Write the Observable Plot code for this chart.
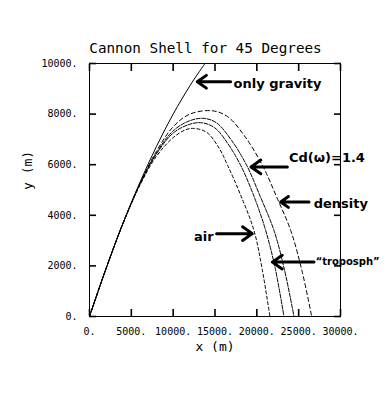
<!DOCTYPE html>
<html><head><meta charset="utf-8">
<script src="https://cdn.jsdelivr.net/npm/d3@7"></script>
<script src="https://cdn.jsdelivr.net/npm/@observablehq/plot@0.6"></script>
<style>
body{margin:0;background:#fff;width:392px;height:402px;overflow:hidden;position:relative;}
#chart{position:absolute;left:0;top:0;}
#title{position:absolute;left:89px;width:233px;top:39px;text-align:center;font-family:"DejaVu Sans Mono",monospace;font-size:14.3px;line-height:18px;color:#000;white-space:nowrap;}
</style></head><body>
<div id="chart"></div>
<div id="title">Cannon Shell for 45 Degrees</div>
<script>
// ---- data ----
const xTicks = [0, 5000, 10000, 15000, 20000, 25000, 30000];
const yTicks = [0, 2000, 4000, 6000, 8000, 10000];

const gravityX = [0, 2000, 4000, 6000, 8000, 10000, 12000, 13000, 13800];
const gravityY = [0, 1920, 3680, 5280, 6720, 8000, 9120, 9620, 10000];

const airX = [0, 2000, 4000, 6000, 8000, 10000, 11500, 12476, 14000, 15500, 16500, 18000, 19650, 20650, 21567];
const airY = [0, 1910, 3670, 5170, 6330, 7070, 7380, 7434, 7280, 6650, 5980, 4850, 3406, 1850, 0];

const tropoX = [0, 2000, 4000, 6000, 8000, 10000, 12000, 13480, 15000, 16500, 18060, 19600, 21053, 22200, 23240];
const tropoY = [0, 1912, 3675, 5200, 6420, 7250, 7600, 7655, 7450, 6850, 5980, 4800, 3406, 1900, 0];

const cdX = [0, 2000, 4000, 6000, 8000, 10000, 12000, 13672, 15200, 17000, 18780, 20400, 22045, 23300, 24440];
const cdY = [0, 1915, 3680, 5220, 6470, 7340, 7740, 7830, 7650, 6950, 5980, 4750, 3406, 1850, 0];

const densX = [0, 2000, 4000, 6000, 8000, 10000, 12000, 14677, 16500, 18500, 20660, 22400, 24043, 25400, 26555];
const densY = [0, 1915, 3685, 5240, 6530, 7500, 8000, 8131, 7900, 7150, 5980, 4700, 3406, 1800, 0];

// annotations (hand-written notes), in data units
const rightNotes  = ["only gravity", "Cd(\u03c9)=1.4", "density"];
const rightNoteX  = [17225, 23840, 26800];
const rightNoteY  = [9190, 6257, 4463];
const leftNotes   = ["air"];
const leftNoteX   = [14833];
const leftNoteY   = [3150];
const arrowX1 = [16866, 23648, 26232, 15191, 26830];
const arrowY  = [9279, 5913, 4527, 3275, 2150];
const arrowX2 = [12880, 19300, 22847, 19462, 21854];
const tropoNote = ["\u201ctroposph\u201d"];
const tropoNoteX = [27033];
const tropoNoteY = [2150];

// ---- build tables ----
const rows = (xs, ys) => xs.map((x, i) => ({x, y: ys[i]}));
const gravity = rows(gravityX, gravityY);
const air = rows(airX, airY);
const tropo = rows(tropoX, tropoY);
const cd = rows(cdX, cdY);
const dens = rows(densX, densY);
const notesR = rightNotes.map((t, i) => ({t, x: rightNoteX[i], y: rightNoteY[i]}));
const notesL = leftNotes.map((t, i) => ({t, x: leftNoteX[i], y: leftNoteY[i]}));
const arrows = arrowX1.map((x1, i) => ({x1, x2: arrowX2[i], y: arrowY[i]}));
const tropoNotes = tropoNote.map((t, i) => ({t, x: tropoNoteX[i], y: tropoNoteY[i]}));

const mono = '"DejaVu Sans Mono", monospace';
const hand = '"DejaVu Sans", sans-serif';
const fmt = d => d + ".";
const none = () => "";
const T = 7; // inward tick length in px
const tw = 1.6; // tick stroke width

const chart = Plot.plot({
  width: 392, height: 402,
  marginLeft: 89, marginRight: 52, marginTop: 63, marginBottom: 86,
  style: {fontFamily: mono, fontSize: "10px", background: "#fff", color: "#000", overflow: "visible"},
  x: {domain: [0, 30000]},
  y: {domain: [0, 10000]},
  marks: [
    Plot.frame({stroke: "#000", strokeWidth: 1}),
    // tick labels
    Plot.axisX(xTicks, {anchor: "bottom", tickSize: 0, tickPadding: 11, tickFormat: fmt, label: null}),
    Plot.axisY(yTicks, {anchor: "left", tickSize: 0, tickPadding: 12, tickFormat: fmt, label: null}),
    // inward ticks on all four sides
    Plot.axisX(xTicks, {anchor: "bottom", tickSize: T, dy: -T, tickFormat: none, label: null, stroke: "#000", strokeWidth: tw}),
    Plot.axisX(xTicks, {anchor: "top", tickSize: T, dy: T, tickFormat: none, label: null, stroke: "#000", strokeWidth: tw}),
    Plot.axisY(yTicks, {anchor: "left", tickSize: T, dx: T, tickFormat: none, label: null, stroke: "#000", strokeWidth: tw}),
    Plot.axisY(yTicks, {anchor: "right", tickSize: T, dx: -T, tickFormat: none, label: null, stroke: "#000", strokeWidth: tw}),
    Plot.line(gravity, {x: "x", y: "y", curve: "catmull-rom", stroke: "#000", strokeWidth: 1}),
    Plot.line(air, {x: "x", y: "y", curve: "catmull-rom", stroke: "#000", strokeWidth: 1, strokeDasharray: "3,2.5"}),
    Plot.line(tropo, {x: "x", y: "y", curve: "catmull-rom", stroke: "#000", strokeWidth: 1, strokeDasharray: "4,1.5"}),
    Plot.line(cd, {x: "x", y: "y", curve: "catmull-rom", stroke: "#000", strokeWidth: 1, strokeDasharray: "4,1.5"}),
    Plot.line(dens, {x: "x", y: "y", curve: "catmull-rom", stroke: "#000", strokeWidth: 1, strokeDasharray: "4,3"}),
    Plot.arrow(arrows, {x1: "x1", y1: "y", x2: "x2", y2: "y", stroke: "#000", strokeWidth: 3, headLength: 6, headAngle: 70}),
    Plot.text(notesR, {x: "x", y: "y", text: "t", textAnchor: "start", fontFamily: hand, fontWeight: "bold", fontSize: 13}),
    Plot.text(notesL, {x: "x", y: "y", text: "t", textAnchor: "end", fontFamily: hand, fontWeight: "bold", fontSize: 13}),
    Plot.text(tropoNotes, {x: "x", y: "y", text: "t", textAnchor: "start", fontFamily: hand, fontWeight: "bold", fontSize: 10}),
    Plot.text(["x (m)"], {frameAnchor: "bottom", dy: 34, fontSize: 13, fontFamily: mono}),
    Plot.text(["y (m)"], {frameAnchor: "left", dx: -62, rotate: -90, fontSize: 13, fontFamily: mono})
  ]
});
document.getElementById("chart").appendChild(chart);
</script>
</body></html>
